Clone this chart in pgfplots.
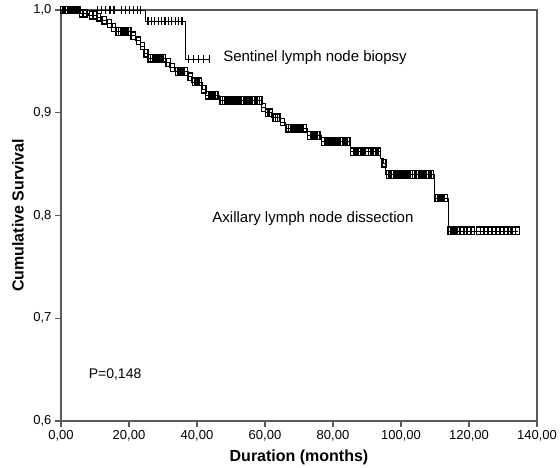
\documentclass[border=0pt]{standalone}
\usepackage{pgfplots}
\pgfplotsset{compat=1.18}
\usepackage{fontspec}
\setmainfont{Liberation Sans}
\definecolor{axgray}{RGB}{90,90,90}

\begin{document}
\begin{tikzpicture}
\useasboundingbox (-61pt,-47pt) rectangle (499pt,421pt);
\begin{axis}[
  at={(0,0)}, anchor=south west,
  scale only axis, width=476pt, height=411pt,
  xmin=0, xmax=140, ymin=0.6, ymax=1.0,
  xtick={0,20,...,140}, ytick={0.6,0.7,0.8,0.9,1.0},
  xtick pos=bottom, ytick pos=left, tick align=outside,
  major tick length=6pt,
  axis line style={axgray, line width=1.4pt},
  tick style={axgray, line width=1.2pt},
  x tick label style={/pgf/number format/.cd, fixed, fixed zerofill, precision=2, use comma},
  y tick label style={/pgf/number format/.cd, fixed, fixed zerofill, precision=1, use comma},
  /pgf/number format/assume math mode=true,
  tick label style={font=\fontsize{13}{15}\selectfont, black},
  xlabel={\bfseries Duration (months)}, ylabel={\bfseries Cumulative Survival},
  label style={font=\fontsize{16}{18}\selectfont},
  xlabel style={at={(axis description cs:0.5,0)}, anchor=center, yshift=-36pt},
  ylabel style={at={(axis description cs:0,0.5)}, anchor=center, rotate=0, yshift=43pt},
  clip=false,
]
% sentinel lymph node biopsy
\addplot[const plot, black, line width=0.8pt] coordinates
  {(0,1.0)(24.9,0.9893)(36.5,0.952)(43.8,0.952)};
\addplot[only marks, mark=|, mark size=4pt, mark options={line width=1.1pt}, black] coordinates
  {(0.5,1)(1.3,1)(2.1,1)(3,1)(4,1)(5,1)(10.8,1)(12,1)(13.2,1)(14.4,1)(15.6,1)
   (17.8,1)(19,1)(20.2,1)(21.4,1)(22.6,1)(23.5,1)
   (25.6,0.9893)(26.6,0.9893)(27.6,0.9893)(28.6,0.9893)(29.6,0.9893)(30.6,0.9893)
   (31.6,0.9893)(32.6,0.9893)(33.6,0.9893)(34.6,0.9893)(35.6,0.9893)
   (37.5,0.952)(39,0.952)(40.5,0.952)(42,0.952)(43.8,0.952)};
% axillary lymph node dissection
\addplot[const plot, black, line width=0.8pt] coordinates
  {(0,1.0)(5.5,0.997)(8,0.995)(10.5,0.993)(12,0.990)(13.5,0.987)(15,0.983)(16,0.979)
   (20.5,0.975)(22,0.970)(23.5,0.965)(24.5,0.958)(25.5,0.953)(31,0.949)(32,0.944)
   (33.5,0.940)(37.5,0.935)(38.5,0.930)(41.5,0.923)(42.5,0.917)(46.5,0.912)(59,0.905)
   (60,0.900)(62,0.895)(64.5,0.891)(66,0.885)(72.5,0.878)(76.5,0.872)(85,0.862)
   (94,0.856)(94.7,0.851)(95.5,0.840)(109.8,0.817)(113.8,0.785)(134.4,0.785)};
\addplot[only marks, mark=square, mark size=3.8pt, mark options={xscale=0.55, line width=1.3pt, fill=white}, black] coordinates
  {(0.5,1)(1.2,1)(2,1)(2.8,1)(3.5,1)(4.3,1)(5,1)(6,0.997)(7,0.997)(9,0.995)(10,0.995)
   (11,0.993)(12.7,0.990)(14.2,0.987)(15.5,0.983)
   (16.8,0.979)(17.6,0.979)(18.4,0.979)(19.2,0.979)(20,0.979)(21.2,0.975)(22.8,0.970)
   (24,0.965)(25,0.958)
   (26.2,0.953)(27,0.953)(27.8,0.953)(28.6,0.953)(29.4,0.953)(30.2,0.953)
   (31.5,0.949)(32.8,0.944)(34.2,0.940)(35,0.940)(35.8,0.940)(36.6,0.940)(38,0.935)
   (39.2,0.930)(40,0.930)(40.8,0.930)(42,0.923)
   (43.2,0.917)(44,0.917)(44.8,0.917)(45.6,0.917)
   (47.4,0.912)(48.2,0.912)(49,0.912)(49.8,0.912)(50.6,0.912)(51.4,0.912)(52.2,0.912)
   (53,0.912)(53.8,0.912)(54.6,0.912)(55.4,0.912)(56.2,0.912)(57,0.912)(57.8,0.912)(58.5,0.912)
   (59.5,0.905)(60.8,0.900)(61.5,0.900)(63,0.895)(63.8,0.895)(65.2,0.891)
   (66.8,0.885)(67.6,0.885)(68.4,0.885)(69.2,0.885)(70,0.885)(70.8,0.885)(71.6,0.885)
   (73.2,0.878)(74,0.878)(74.8,0.878)(75.6,0.878)
   (77.3,0.872)(78.1,0.872)(78.9,0.872)(79.7,0.872)(80.5,0.872)(81.3,0.872)(82.1,0.872)
   (82.9,0.872)(83.7,0.872)(84.4,0.872)
   (85.8,0.862)(86.6,0.862)(87.4,0.862)(88.2,0.862)(89,0.862)(89.8,0.862)(91,0.862)
   (91.8,0.862)(92.6,0.862)(93.4,0.862)(95,0.851)
   (96.3,0.840)(97.1,0.840)(97.9,0.840)(98.7,0.840)(99.5,0.840)(100.3,0.840)(101.1,0.840)
   (101.9,0.840)(102.7,0.840)(103.5,0.840)(105,0.840)(105.8,0.840)(106.6,0.840)(107.4,0.840)
   (108.2,0.840)(109,0.840)
   (110.6,0.817)(111.4,0.817)(112.2,0.817)(113,0.817)
   (114.4,0.785)(115.2,0.785)(116,0.785)(116.8,0.785)(118,0.785)(119,0.785)(120,0.785)
   (121,0.785)(122.8,0.785)(124,0.785)(125,0.785)(126.3,0.785)(127.3,0.785)(128.5,0.785)
   (129.5,0.785)(131,0.785)(132,0.785)(133,0.785)(134.2,0.785)};
\node[font=\fontsize{15}{17}\selectfont] at (axis cs:74.7,0.954) {Sentinel lymph node biopsy};
\node[font=\fontsize{15}{17}\selectfont] at (axis cs:74.1,0.797) {Axillary lymph node dissection};
\node[font=\fontsize{14}{16}\selectfont] at (axis cs:15.9,0.645) {P=0,148};
\end{axis}
\end{tikzpicture}
\end{document}
